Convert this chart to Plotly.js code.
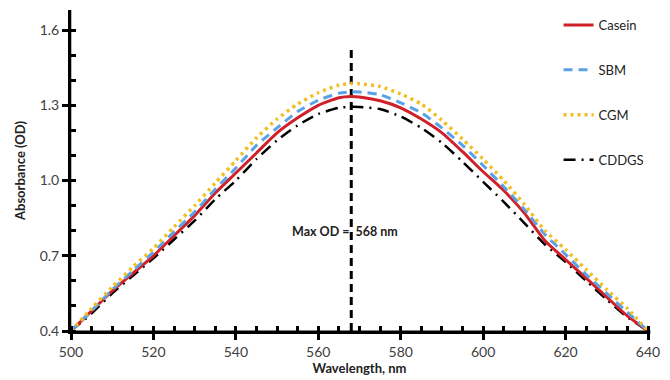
<!DOCTYPE html>
<html>
<head>
<meta charset="utf-8">
<script src="https://cdn.plot.ly/plotly-3.0.1.min.js"></script>
<style>html,body{margin:0;padding:0;background:#fff;}#chart{width:670px;height:380px;}</style>
</head>
<body>
<div id="chart"></div>
<script>
const wavelength = [500,505,510,515,520,525,530,535,540,545,550,555,560,565,568,570,575,580,585,590,595,600,605,610,615,620,625,630,635,640];
const casein = [0.40,0.48,0.56,0.63,0.70,0.78,0.86,0.95,1.03,1.11,1.19,1.25,1.30,1.33,1.335,1.333,1.318,1.29,1.245,1.19,1.115,1.035,0.96,0.87,0.76,0.685,0.611,0.535,0.46,0.40];
const sbm = [0.40,0.48,0.565,0.64,0.715,0.795,0.875,0.965,1.05,1.14,1.21,1.275,1.32,1.348,1.354,1.353,1.342,1.31,1.27,1.21,1.14,1.06,0.975,0.885,0.785,0.705,0.625,0.55,0.475,0.40];
const cgm = [0.40,0.49,0.575,0.655,0.73,0.815,0.90,0.99,1.08,1.17,1.245,1.305,1.35,1.38,1.387,1.386,1.375,1.345,1.305,1.24,1.165,1.085,1.0,0.905,0.80,0.725,0.645,0.565,0.49,0.40];
const cddgs = [0.40,0.47,0.55,0.62,0.69,0.765,0.84,0.925,1.0,1.085,1.16,1.22,1.265,1.29,1.294,1.293,1.285,1.255,1.21,1.15,1.075,0.995,0.915,0.83,0.745,0.675,0.60,0.525,0.455,0.40];
const seriesNames = ["Casein","SBM","CGM","CDDGS"];
const maxWavelength = [568, 568];
const maxLineY = [0.4, 1.53];
const annotationText = "Max OD =&nbsp;&nbsp;568 nm";
const annotationPos = [553.2, 0.795];
const yTicks = [0.4, 0.7, 1.0, 1.3, 1.6];
const yTickLabels = ["0.4","0.7","1.0","1.3","1.6"];
const xTicks = [500,520,540,560,580,600,620,640];

const mk = (y, name, color, dash, width) => ({
  x: wavelength, y: y, name: name, type: 'scatter', mode: 'lines',
  line: {color: color, dash: dash, width: width, shape: 'spline', smoothing: 0.6},
  legendgroup: name
});
const traces = [
  {x: maxWavelength, y: maxLineY, type:'scatter', mode:'lines', showlegend:false, hoverinfo:'skip',
   line:{color:'#000', width:3, dash:'8px,5px'}},
  mk(cddgs, seriesNames[3], '#000000', '12px,6px,2px,6px', 2.5),
  mk(casein, seriesNames[0], '#D0202A', 'solid', 3),
  mk(sbm, seriesNames[1], '#5AA2E6', '9px,6px', 3),
  mk(cgm, seriesNames[2], '#F2BE22', '3px,4px', 3.5)
];
const legendOrder = {Casein:1, SBM:2, CGM:3, CDDGS:4};
traces.forEach(t => { if (t.name) t.legendrank = legendOrder[t.name]; });

const layout = {
  width: 670, height: 380,
  margin: {l: 71, r: 22, t: 10, b: 49},
  paper_bgcolor: '#fff', plot_bgcolor: '#fff',
  font: {family: 'Lato, "Open Sans", sans-serif', color: '#404040'},
  showlegend: true,
  legend: {x: 0.845, y: 1.0, xanchor: 'left', yanchor: 'top', traceorder: 'grouped',
           tracegroupgap: 25, font: {size: 13, color: '#222'}, bgcolor: 'rgba(0,0,0,0)', itemwidth: 30},
  xaxis: {
    range: [500, 640], tickvals: xTicks, ticktext: xTicks.map(String),
    showgrid: false, zeroline: false, showline: true, linecolor: '#000000', linewidth: 3, layer: 'above traces',
    ticks: 'outside', ticklen: 6, tickwidth: 3, tickcolor: '#000',
    minor: {dtick: 5, tick0: 500, ticks: 'inside', ticklen: 5, tickwidth: 3, tickcolor: '#000', showgrid: false},
    tickfont: {size: 14, color: '#404040', family: 'Lato, sans-serif'},
    title: {text: '<b>Wavelength, nm</b>', font: {size: 13, color: '#222'}, standoff: 6}
  },
  yaxis: {
    range: [0.4, 1.68], tickvals: yTicks, ticktext: yTickLabels,
    showgrid: false, zeroline: false, showline: true, linecolor: '#000000', linewidth: 3, layer: 'above traces',
    ticks: 'outside', ticklen: 6, tickwidth: 3, tickcolor: '#000',
    minor: {dtick: 0.1, tick0: 0.4, ticks: 'inside', ticklen: 5, tickwidth: 3, tickcolor: '#000', showgrid: false},
    tickfont: {size: 14, color: '#404040', family: 'Lato, sans-serif'},
    title: {text: '<b>Absorbance (OD)</b>', font: {size: 13, color: '#222'}, standoff: 12}
  },
  shapes: [
    {type:'rect', xref:'paper', yref:'paper', x0:-0.004, x1:0.0005, y0:-0.009, y1:1, fillcolor:'#000', line:{width:0}, layer:'above'},
    {type:'rect', xref:'paper', yref:'paper', x0:-0.004, x1:1.004, y0:-0.009, y1:0.0015, fillcolor:'#000', line:{width:0}, layer:'above'}
  ],
  annotations: [{
    x: annotationPos[0], y: annotationPos[1], xref: 'x', yref: 'y', xanchor: 'left',
    text: '<b>' + annotationText + '</b>',
    showarrow: false, font: {size: 12.5, color: '#222', family: 'Lato, sans-serif'}, bgcolor: 'rgba(0,0,0,0)'
  }]
};
Plotly.newPlot('chart', traces, layout, {displayModeBar: false, staticPlot: true});
</script>
</body>
</html>
